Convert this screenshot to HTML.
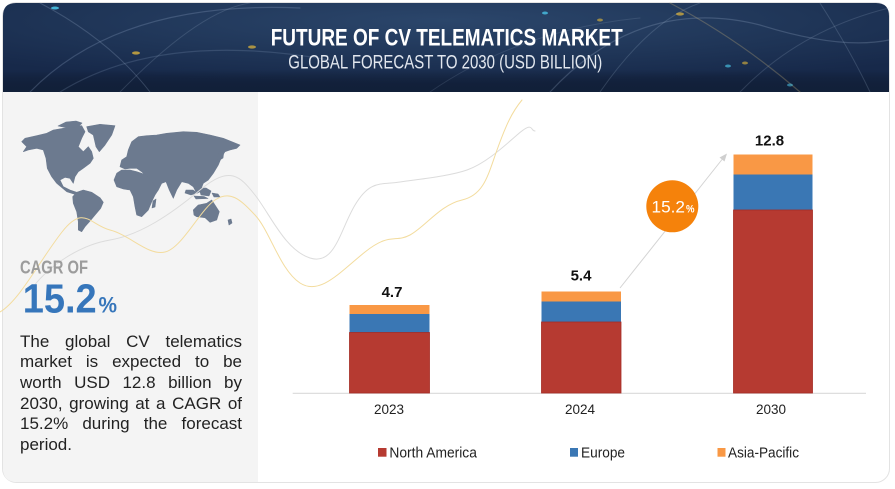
<!DOCTYPE html>
<html>
<head>
<meta charset="utf-8">
<style>
  html,body{margin:0;padding:0;background:#ffffff;}
  #wrap{position:relative;width:895px;height:489px;overflow:hidden;background:#ffffff;}
  svg{position:absolute;left:0;top:0;}
  #para{position:absolute;left:20px;top:331.5px;width:222px;font-family:"Liberation Sans",sans-serif;font-size:17px;line-height:20.7px;color:#222;}
  #para div{white-space:nowrap;}
  #para .j{text-align:justify;text-align-last:justify;white-space:normal;}
</style>
</head>
<body>
<div id="wrap">
<svg width="895" height="489" viewBox="0 0 895 489" xmlns="http://www.w3.org/2000/svg">
  <defs>
    <radialGradient id="hg" cx="0.5" cy="0.2" r="0.7">
      <stop offset="0" stop-color="#2b466b"/>
      <stop offset="0.6" stop-color="#1f3557"/>
      <stop offset="1" stop-color="#17294a"/>
    </radialGradient>
    <linearGradient id="hb" x1="0" y1="0" x2="0" y2="1">
      <stop offset="0" stop-color="#000" stop-opacity="0"/>
      <stop offset="0.75" stop-color="#000" stop-opacity="0"/>
      <stop offset="1" stop-color="#0b1628" stop-opacity="0.5"/>
    </linearGradient>
  </defs>

  <!-- card outline -->
  <rect x="2.5" y="2.5" width="887" height="480" rx="14" ry="14" fill="#ffffff" stroke="#e3e3e3" stroke-width="1"/>

  <!-- left panel -->
  <path d="M3 92 L258 92 L258 482 L17 482 Q3 482 3 468 Z" fill="#f4f4f4"/>

  <!-- header -->
  <path d="M3 92 L3 16 Q3 3 16 3 L876 3 Q889 3 889 16 L889 92 Z" fill="url(#hg)"/>
  <path d="M3 92 L3 16 Q3 3 16 3 L876 3 Q889 3 889 16 L889 92 Z" fill="url(#hb)"/>
  <g fill="none" stroke-linecap="round">
    <path d="M30 92 Q120 0 300 8" stroke="#8fa6c4" stroke-opacity="0.28" stroke-width="1.2"/>
    <path d="M60 92 Q160 30 330 60" stroke="#8fa6c4" stroke-opacity="0.22" stroke-width="1.2"/>
    <path d="M120 92 Q200 10 250 3" stroke="#9fb4cf" stroke-opacity="0.2" stroke-width="1"/>
    <path d="M40 3 Q110 40 150 92" stroke="#9fb4cf" stroke-opacity="0.25" stroke-width="1"/>
    <path d="M550 92 Q640 -5 760 25 Q840 50 889 40" stroke="#9fb4cf" stroke-opacity="0.25" stroke-width="1.2"/>
    <path d="M600 92 Q650 20 700 3" stroke="#9fb4cf" stroke-opacity="0.22" stroke-width="1"/>
    <path d="M670 3 Q740 40 800 92" stroke="#c9b27a" stroke-opacity="0.3" stroke-width="1.2"/>
    <path d="M740 92 Q800 30 889 8" stroke="#9fb4cf" stroke-opacity="0.2" stroke-width="1"/>
    <path d="M820 3 Q850 50 870 92" stroke="#9fb4cf" stroke-opacity="0.22" stroke-width="1"/>
    <path d="M430 92 Q520 30 640 18" stroke="#9fb4cf" stroke-opacity="0.16" stroke-width="1"/>
  </g>
  <g>
    <ellipse cx="55" cy="8" rx="4" ry="1.5" fill="#4fd3f5" opacity="0.8"/>
    <ellipse cx="136" cy="53" rx="4" ry="1.6" fill="#e5b93b" opacity="0.75"/>
    <ellipse cx="252" cy="47" rx="4" ry="1.6" fill="#e5b93b" opacity="0.7"/>
    <ellipse cx="545" cy="13" rx="3" ry="1.5" fill="#4fd3f5" opacity="0.7"/>
    <ellipse cx="600" cy="20" rx="3" ry="1.5" fill="#e5b93b" opacity="0.6"/>
    <ellipse cx="680" cy="14" rx="4" ry="1.6" fill="#e5b93b" opacity="0.7"/>
    <ellipse cx="745" cy="63" rx="3" ry="1.5" fill="#e5b93b" opacity="0.6"/>
    <ellipse cx="728" cy="66" rx="3" ry="1.5" fill="#4fd3f5" opacity="0.6"/>
    <ellipse cx="790" cy="85" rx="3" ry="1.5" fill="#4fd3f5" opacity="0.5"/>
  </g>

  <!-- header text -->
  <text x="446.7" y="45.5" text-anchor="middle" font-family="Liberation Sans, sans-serif" font-weight="bold" font-size="24.5" fill="#ffffff" textLength="352" lengthAdjust="spacingAndGlyphs">FUTURE OF CV TELEMATICS MARKET</text>
  <text x="445.3" y="68.5" text-anchor="middle" font-family="Liberation Sans, sans-serif" font-size="19" fill="#e2e7ee" textLength="314" lengthAdjust="spacingAndGlyphs">GLOBAL FORECAST TO 2030 (USD BILLION)</text>

  <!-- world map -->
  <g fill="#6c7a8f" stroke="#6c7a8f" stroke-width="0.6" stroke-linejoin="round">
    <!-- North America -->
    <path d="M21.7 141.7 L25 138.3 L36.7 135.7 L46.7 133.3 L53.3 130 L63.3 128.3 L73.3 126.7 L81.7 125.7 L85 131.7 L81.7 138.3 L78.3 146.7 L83.3 151.7 L88.3 146.7 L91.7 151.7 L93.3 158.3 L90 163.3 L83.3 168.3 L78.3 171.7 L75 176.7 L73.3 183.3 L70 178.3 L65 177.3 L60 180 L63.3 186.7 L70 190 L76.7 192.3 L75 194.3 L66.7 191.7 L56.7 183.3 L51.7 176.7 L47.3 168.3 L46 158.3 L43.3 150 L36.7 148.3 L28.3 150 L23.3 151.7 L26.7 146.7 Z"/>
    <!-- Arctic islands -->
    <path d="M58 126 L66 122 L76 121 L82 123 L78 127 L68 128 Z"/>
    <!-- Greenland -->
    <path d="M86.7 126.7 L100 124.3 L115 125.7 L111.7 135 L105 145 L99.3 151.7 L96 146.7 L93.3 135 L88.3 131.7 Z"/>
    <!-- South America -->
    <path d="M76.7 192.3 L83.3 190 L91.7 192.3 L100 197.7 L103.3 202.3 L100.7 208.3 L95 215 L90 221 L85 226.7 L81.7 231.7 L78.3 230 L78.3 221.7 L76.7 211.7 L73.3 203.3 L72.7 196.7 Z"/>
    <!-- Eurasia -->
    <path d="M120 166.7 L121.7 160 L126.7 156.7 L128.3 150 L131.7 141.7 L138.3 136.7 L146.7 135.7 L156.7 135 L166.7 133.3 L183.3 131.7 L196.7 132.3 L210 135 L223.3 138.3 L240 145 L236.7 148.3 L230 150 L225 151.7 L221.7 156.7 L218.3 165 L213.3 173.3 L208.3 180 L203.3 183.3 L200 191.7 L196.7 193.3 L193.3 186.7 L188.3 183.3 L181.7 181.7 L176.7 190 L173.3 198.3 L169.3 190 L166 181.7 L161.7 183.3 L158.3 190 L151.7 186.7 L146.7 176.7 L141.7 171.7 L136.7 168.3 L130 168.3 L125 169 Z"/>
    <!-- Africa -->
    <path d="M116.7 173.3 L121.7 170 L130 170 L136.7 171.7 L146.7 175 L151.7 181.7 L158.3 190 L155 195 L151.7 201.7 L148.3 210 L141.7 216.7 L136.7 215 L135 206.7 L133.3 196.7 L130 190 L123.3 189 L116.7 186.7 L114 180 Z"/>
    <!-- Madagascar -->
    <path d="M153 201 L156 199 L155 207 L152 208 Z"/>
    <!-- Indonesia -->
    <path d="M186 190 L193 190 L197 193 L191 195 L185 193 Z"/>
    <path d="M199 188 L206 188 L211 191 L209 196 L201 195 Z"/>
    <path d="M194 196 L204 196.5 L208 198.5 L196 199 Z"/>
    <path d="M212 193 L218 194 L220 197 L214 197 Z"/>
    <!-- Japan -->
    <path d="M220 150 L224 151 L223 158 L218 161 L217 158 Z"/>
    <!-- Australia -->
    <path d="M193.3 210 L198.3 205 L206.7 203.3 L211.7 200 L215 205 L219.3 211.7 L216.7 220 L210 222.3 L205 217.7 L196.7 216.7 L194 215 Z"/>
    <!-- New Zealand -->
    <path d="M228 220 L231 219 L232 223 L229 225 Z"/>
  </g>

  <!-- decorative curves -->
  <g fill="none" stroke-linecap="round">
    <path d="M33 287 C50 265, 80 245, 110 240 S170 215, 200 190 S240 176, 255 195 S285 250, 310 258 S340 230, 355 205 S380 185, 400 182 S450 176, 467 170 S500 150, 517 135 S530 131, 535 131" stroke="#dcdcdc" stroke-width="1"/>
    <path d="M0 312 C20 300, 40 260, 62 232 S90 225, 110 230 S148 256, 165 252 S200 210, 215 200 S240 199, 255 215 S280 270, 300 283 S340 272, 365 252 S395 243, 410 235 S440 205, 462 200 S488 175, 497 150 S512 112, 522 100" stroke="#f3dc9e" stroke-width="1"/>
  </g>

  <!-- CAGR -->
  <text x="20" y="273.3" font-family="Liberation Sans, sans-serif" font-weight="bold" font-size="18.3" fill="#9c9c9c" textLength="68" lengthAdjust="spacingAndGlyphs">CAGR OF</text>
  <text x="22.7" y="312.7" font-family="Liberation Sans, sans-serif" font-weight="bold" font-size="41" fill="#3676bb" textLength="74" lengthAdjust="spacingAndGlyphs">15.2</text>
  <text x="98.5" y="312.7" font-family="Liberation Sans, sans-serif" font-weight="bold" font-size="22" fill="#3676bb" textLength="18.5" lengthAdjust="spacingAndGlyphs">%</text>

  <!-- baseline -->
  <line x1="292.7" y1="393.3" x2="866" y2="393.3" stroke="#d9d9d9" stroke-width="1.2"/>

  <!-- bars 2023 -->
  <rect x="349.5" y="305" width="80" height="9" fill="#f99845"/>
  <rect x="349.5" y="314" width="80" height="18.5" fill="#3a77b4"/>
  <rect x="349.5" y="332.5" width="80" height="60.5" fill="#b63a31" stroke="#a52c25" stroke-width="0.8"/>
  <!-- bars 2024 -->
  <rect x="541.5" y="291.5" width="79.5" height="10" fill="#f99845"/>
  <rect x="541.5" y="301.5" width="79.5" height="20.5" fill="#3a77b4"/>
  <rect x="541.5" y="322" width="79.5" height="71" fill="#b63a31" stroke="#a52c25" stroke-width="0.8"/>
  <!-- bars 2030 -->
  <rect x="733.5" y="154.5" width="79" height="20" fill="#f99845"/>
  <rect x="733.5" y="174.5" width="79" height="35.5" fill="#3a77b4"/>
  <rect x="733.5" y="210" width="79" height="183" fill="#b63a31" stroke="#a52c25" stroke-width="0.8"/>

  <!-- value labels -->
  <g font-family="Liberation Sans, sans-serif" font-weight="bold" font-size="15" fill="#111" text-anchor="middle">
    <text x="392" y="297">4.7</text>
    <text x="581" y="280.5">5.4</text>
    <text x="769.5" y="145.5">12.8</text>
  </g>

  <!-- axis labels -->
  <g font-family="Liberation Sans, sans-serif" font-size="13.5" fill="#222" text-anchor="middle">
    <text x="389" y="414">2023</text>
    <text x="580" y="414">2024</text>
    <text x="771" y="414">2030</text>
  </g>

  <!-- arrow -->
  <line x1="620" y1="288" x2="724" y2="157" stroke="#d4d4d4" stroke-width="1"/>
  <polygon points="727,153.5 719.5,157.5 724.5,161.5" fill="#cfcfcf"/>

  <!-- CAGR circle -->
  <circle cx="672.3" cy="206.3" r="26" fill="#f5820b"/>
  <text x="651.5" y="212.3" font-family="Liberation Sans, sans-serif" font-size="17" fill="#ffffff" textLength="33.5" lengthAdjust="spacingAndGlyphs">15.2</text>
  <text x="686" y="212.3" font-family="Liberation Sans, sans-serif" font-weight="bold" font-size="11" fill="#ffffff" textLength="8.5" lengthAdjust="spacingAndGlyphs">%</text>

  <!-- legend -->
  <rect x="378" y="448" width="8.5" height="8.7" fill="#b63a31"/>
  <text x="389.4" y="457.6" font-family="Liberation Sans, sans-serif" font-size="15" fill="#222" textLength="87.5" lengthAdjust="spacingAndGlyphs">North America</text>
  <rect x="570" y="448" width="8" height="8.7" fill="#3a77b4"/>
  <text x="581" y="457.6" font-family="Liberation Sans, sans-serif" font-size="15" fill="#222" textLength="44" lengthAdjust="spacingAndGlyphs">Europe</text>
  <rect x="717.5" y="448" width="8" height="8.7" fill="#f99845"/>
  <text x="728" y="457.6" font-family="Liberation Sans, sans-serif" font-size="15" fill="#222" textLength="71" lengthAdjust="spacingAndGlyphs">Asia-Pacific</text>
</svg>

<div id="para">
  <div class="j">The global CV telematics</div>
  <div class="j">market is expected to be</div>
  <div class="j">worth USD 12.8 billion by</div>
  <div class="j">2030, growing at a CAGR of</div>
  <div class="j">15.2% during the forecast</div>
  <div>period.</div>
</div>
</div>
</body>
</html>
